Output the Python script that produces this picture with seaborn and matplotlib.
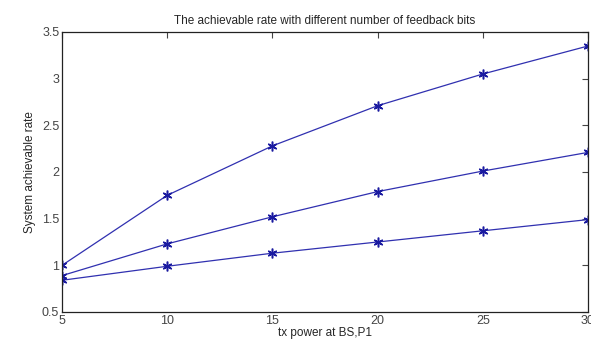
import matplotlib
matplotlib.use("Agg")
import matplotlib.pyplot as plt
import seaborn as sns
import pandas as pd

tx_power = [5, 10, 15, 20, 25, 30]
rate_high = [1.00, 1.75, 2.28, 2.71, 3.05, 3.35]
rate_mid = [0.89, 1.23, 1.52, 1.79, 2.01, 2.21]
rate_low = [0.84, 0.99, 1.13, 1.25, 1.37, 1.49]

series = {"high": rate_high, "mid": rate_mid, "low": rate_low}
rows = []
for name, vals in series.items():
    for x, y in zip(tx_power, vals):
        rows.append({"tx": x, "rate": y, "bits": name})
df = pd.DataFrame(rows)

sns.set_style("white")
plt.rcParams["font.family"] = ["Liberation Sans", "DejaVu Sans"]

fig = plt.figure(figsize=(5.91, 3.40), dpi=100)
ax = fig.add_axes([62 / 591, 1 - 312 / 340, (588 - 62) / 591, (312 - 32) / 340])

sns.lineplot(
    data=df, x="tx", y="rate", hue="bits",
    palette={"high": "#3030b0", "mid": "#3030b0", "low": "#3030b0"},
    marker=(6, 2, 0), markersize=7, markeredgewidth=1.1,
    markeredgecolor="#1a1aa0",
    linewidth=0.9, legend=False, ax=ax,
)

ax.set_xlim(5, 30)
ax.set_ylim(0.5, 3.5)
ax.set_xticks(tx_power)
ax.set_yticks([0.5, 1, 1.5, 2, 2.5, 3, 3.5])
ax.set_yticklabels(["0.5", "1", "1.5", "2", "2.5", "3", "3.5"])
ax.tick_params(direction="in", length=4, labelsize=9, colors="#444444",
               top=True, right=True, pad=2)
for s in ax.spines.values():
    s.set_color("#222222")
    s.set_linewidth(0.9)

ax.set_xlabel("tx power at BS,P1", fontsize=8.5, labelpad=0)
ax.set_ylabel("System achievable rate", fontsize=8.5, labelpad=4)
ax.set_title("The achievable rate with different number of feedback bits",
             fontsize=8.5, pad=6)

fig.savefig("out.png", dpi=100)
